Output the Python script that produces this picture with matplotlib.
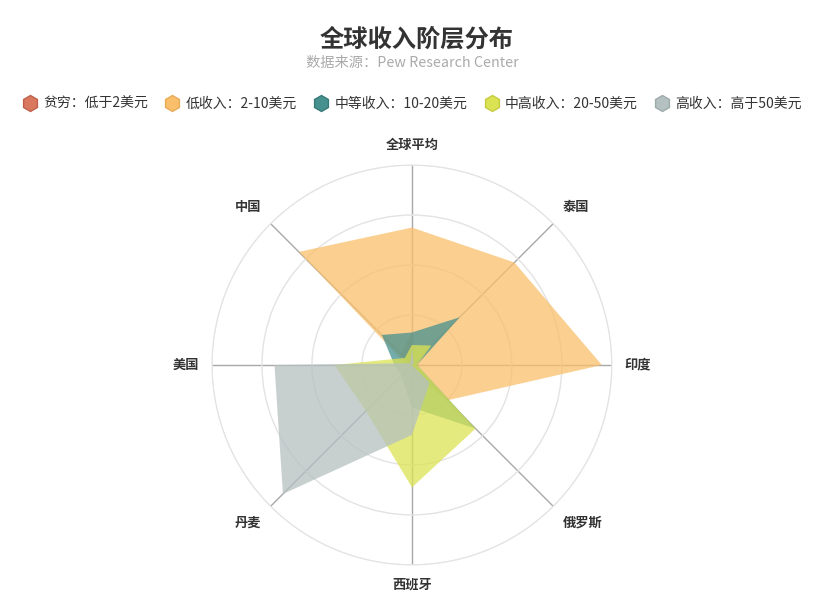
import numpy as np
import matplotlib
matplotlib.use('Agg')
import matplotlib.pyplot as plt
from matplotlib.lines import Line2D

plt.rcParams['font.family'] = ['Noto Sans CJK SC', 'DejaVu Sans']

# 数据（百分比，从图上读取）
regions = ['全球平均', '泰国', '印度', '俄罗斯', '西班牙', '丹麦', '美国', '中国']
poor = [13, 1, 3, 1, 0, 0, 1, 6]
low = [55, 58, 76, 20, 3, 1, 2, 64]
middle = [13, 27, 2, 36, 17, 6, 7, 17]
upper = [8, 11, 2, 36, 49, 26, 31, 4]
high = [7, 1, 0, 10, 28, 73, 55, 1]

series_names = ['贫穷：低于2美元', '低收入：2-10美元', '中等收入：10-20美元',
                '中高收入：20-50美元', '高收入：高于50美元']
colors = ['#d9775f', '#f9bf6a', '#46918f', '#dce352', '#b5c0c0']
edges = ['#c0604c', '#e8ac58', '#367a78', '#c5cc40', '#9eabab']
rmax = 80

fig = plt.figure(figsize=(8.33, 6.08), dpi=100)
fig.text(0.5, 0.934, '全球收入阶层分布', ha='center', va='center',
         fontsize=17.5, fontweight='bold', color='#333333')
fig.text(0.495, 0.896, '数据来源：Pew Research Center', ha='center', va='center',
         fontsize=10.3, color='#aaaaaa')

ax = fig.add_axes([0.2545, 0.0707, 0.480, 0.658], projection='polar')
ax.set_theta_zero_location('N')
ax.set_theta_direction(-1)

theta = np.linspace(0, 2 * np.pi, len(regions), endpoint=False)
theta_c = np.concatenate([theta, theta[:1]])

for name, vals, c in zip(series_names, [poor, low, middle, upper, high], colors):
    v = np.concatenate([vals, vals[:1]])
    ax.fill(theta_c, v, color=c, alpha=0.75, linewidth=0, zorder=3)

ax.set_ylim(0, rmax)
ax.set_yticks([20, 40, 60, 80])
ax.set_yticklabels([])
ax.set_xticks(theta)
ax.set_xticklabels([])
ax.yaxis.grid(True, color='#e3e3e3', linewidth=1)
ax.xaxis.grid(True, color='#a8a8a8', linewidth=1)
ax.spines['polar'].set_color('#e3e3e3')
ax.tick_params(length=0)

# 轴名称
for t, name in zip(theta, regions):
    s, c = np.sin(t), np.cos(t)
    ha = 'center' if abs(s) < 0.01 else ('left' if s > 0 else 'right')
    va = 'center' if abs(c) < 0.01 else ('bottom' if c > 0 else 'top')
    ax.text(t, rmax * 1.065, name, ha=ha, va=va, fontsize=9.5,
            color='#333333', fontweight='bold')

handles = [Line2D([], [], linestyle='none', marker='h', markersize=11.5,
                  markerfacecolor=c, markeredgecolor=e, markeredgewidth=1)
           for c, e in zip(colors, edges)]
fig.legend(handles, series_names, loc='center', bbox_to_anchor=(0.495, 0.829),
           ncol=5, frameon=False, fontsize=10, handlelength=1.0,
           handletextpad=0.45, columnspacing=1.25, labelcolor='#333333')

fig.savefig('out.png', dpi=100)
